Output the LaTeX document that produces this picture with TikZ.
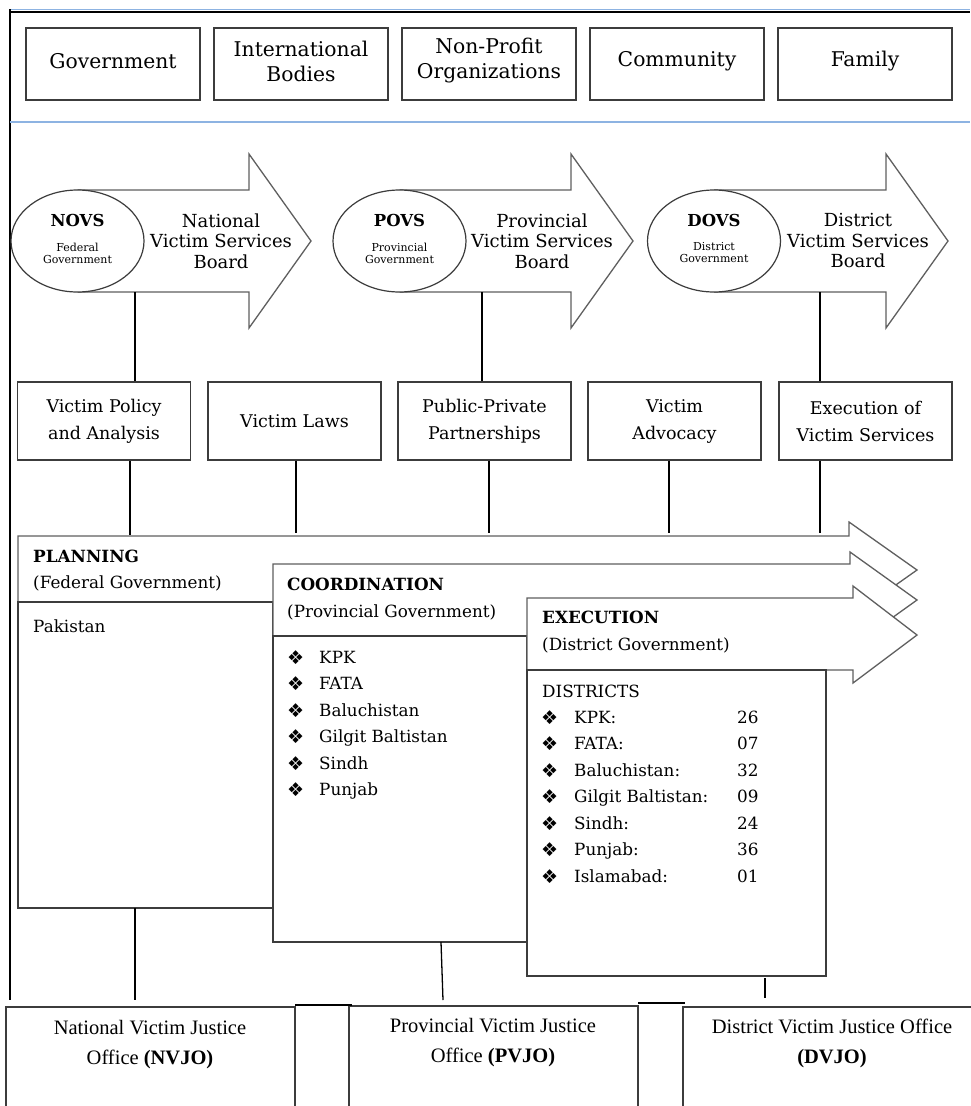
\documentclass[tikz,border=0pt]{standalone}
\usepackage{fontspec}
\setmainfont{DejaVu Serif}
\newfontfamily\timesf{Liberation Serif}
\newfontfamily\symf{DejaVu Sans}
\usetikzlibrary{shapes.geometric}
\definecolor{rule}{RGB}{141,179,226}
\definecolor{edge}{RGB}{60,60,60}
\definecolor{arrg}{RGB}{95,95,95}
\tikzset{
  topbox/.style={draw=edge, line width=1.4pt, minimum width=174pt, minimum height=72pt, inner sep=0pt},
  toptext/.style={inner sep=0pt, align=center, font=\fontsize{20.3}{25}\selectfont},
  midbox/.style={draw=edge, line width=1.4pt, minimum width=173pt, minimum height=78pt, inner sep=0pt, align=center, font=\fontsize{17.5}{27}\selectfont},
  arrline/.style={draw=arrg, line width=1.3pt, line join=miter, fill=white},
  oval/.style={ellipse, draw=edge, line width=1.2pt, fill=white, minimum width=133pt, minimum height=102pt, inner sep=0pt},
  ovalhead/.style={inner sep=0pt, font=\bfseries\fontsize{16.5}{16}\selectfont},
  ovalsub/.style={inner sep=0pt, align=center, font=\fontsize{11}{12}\selectfont},
  boardtext/.style={inner sep=0pt, align=center, font=\fontsize{18}{20.5}\selectfont},
  conn/.style={draw=black, line width=1.3pt},
  bodyline/.style={draw=edge, line width=1.4pt, fill=white},
  txt/.style={anchor=base west, inner sep=0pt, font=\fontsize{16.8}{20}\selectfont},
  btxt/.style={anchor=base west, inner sep=0pt, font=\bfseries\fontsize{16.8}{20}\selectfont},
  bul/.style={anchor=base west, inner sep=0pt, font=\symf\fontsize{19}{19}\selectfont},
  botbox/.style={draw=edge, line width=1.1pt, minimum width=289pt, minimum height=110pt, inner sep=0pt},
  bottext/.style={inner sep=0pt, align=center, font=\timesf\fontsize{20.5}{30}\selectfont},
}
\begin{document}
\begin{tikzpicture}[x=1pt,y=-1pt]
\useasboundingbox (0,0) rectangle (970,1106);
% frame
\draw[rule, line width=1.4pt] (10,9.5) -- (970,9.5);
\draw[black, line width=1.6pt] (10,12) -- (970,12);
\draw[black, line width=1.8pt] (10,9) -- (10,1000);
\draw[rule, line width=1.4pt] (10,122) -- (970,122);
% top boxes
\node[topbox] (gov) at (113,64) {};
\node[toptext] (govt) at (113,61) {Government};
\node[topbox] (intl) at (301,64) {};
\node[toptext] (intlt) at (301,61) {International\\Bodies};
\node[topbox] (npo) at (489,64) {};
\node[toptext] (npot) at (489,61) {Non-Profit\\Organizations};
\node[topbox] (com) at (677,64) {};
\node[toptext] (comt) at (677,61) {Community};
\node[topbox] (fam) at (865,64) {};
\node[toptext] (famt) at (865,61) {Family};
% big arrows
\draw[arrline] (77.5,190) -- (249,190) -- (249,154) -- (311,241) -- (249,328) -- (249,292) -- (77.5,292);
\node[oval] (novs) at (77.5,241) {};
\node[ovalhead] (novsh) at (77.5,220) {NOVS};
\node[ovalsub] (novss) at (77.5,253) {Federal\\Government};
\node[boardtext] (nvsb) at (221,241) {National\\Victim Services\\Board};
\draw[arrline] (399.5,190) -- (571,190) -- (571,154) -- (633,241) -- (571,328) -- (571,292) -- (399.5,292);
\node[oval] (povs) at (399.5,241) {};
\node[ovalhead] (povsh) at (399.5,220) {POVS};
\node[ovalsub] (povss) at (399.5,253) {Provincial\\Government};
\node[boardtext] (pvsb) at (542,241) {Provincial\\Victim Services\\Board};
\draw[arrline] (714,190) -- (886,190) -- (886,154) -- (948,241) -- (886,328) -- (886,292) -- (714,292);
\node[oval] (dovs) at (714,241) {};
\node[ovalhead] (dovsh) at (714,220) {DOVS};
\node[ovalsub] (dovss) at (714,253) {District\\Government};
\node[boardtext] (dvsb) at (858,241) {District\\Victim Services\\Board};
% middle boxes
\node[midbox] (vpa) at (104,421) {Victim Policy\\and Analysis};
\node[midbox] (vl) at (294.5,421) {Victim Laws};
\node[midbox] (ppp) at (484.5,421) {Public-Private\\Partnerships};
\node[midbox] (va) at (674.5,421) {Victim\\Advocacy};
\node[midbox] (evs) at (865.5,421) {Execution of\\Victim Services};
% connectors arrows -> boxes
\coordinate (a1) at (135,292);
\coordinate (a2) at (482,292);
\coordinate (a3) at (820,292);
\draw[conn] (a1) -- (a1 |- vpa.north);
\draw[conn] (a2) -- (a2 |- ppp.north);
\draw[conn] (a3) -- (a3 |- evs.north);
% planning / coordination / execution arrows
\draw[arrline] (18,536) -- (849,536) -- (849,522) -- (917,570) -- (849,618) -- (849,602) -- (18,602) -- cycle;
\draw[bodyline] (18,602) rectangle (273,908);
\draw[arrline] (273,564) -- (850,564) -- (850,552) -- (917,600) -- (850,648) -- (850,636) -- (273,636) -- cycle;
\draw[bodyline] (273,636) rectangle (527,942);
\draw[arrline] (527,598) -- (853,598) -- (853,586) -- (917,635) -- (853,683) -- (853,670) -- (527,670) -- cycle;
\draw[bodyline] (527,670) rectangle (826,976);
% connectors boxes -> planning arrow
\coordinate (p1) at (130,535);
\coordinate (p2) at (296,533);
\coordinate (p3) at (489,533);
\coordinate (p4) at (669,533);
\coordinate (p5) at (820,533);
\draw[conn] (p1 |- vpa.south) -- (p1);
\draw[conn] (p2 |- vl.south) -- (p2);
\draw[conn] (p3 |- ppp.south) -- (p3);
\draw[conn] (p4 |- va.south) -- (p4);
\draw[conn] (p5 |- evs.south) -- (p5);
% planning text
\node[btxt] (plan) at (33,562) {PLANNING};
\node[txt] (fedg) at (33,588) {(Federal Government)};
\node[txt] (pak) at (33,632) {Pakistan};
% coordination text
\node[btxt] (coord) at (287,590) {COORDINATION};
\node[txt] (provg) at (287,617) {(Provincial Government)};
\foreach[count=\i from 0] \t in {KPK,FATA,Baluchistan,Gilgit Baltistan,Sindh,Punjab}{
  \node[bul] (cb\i) at (287,664+26.5*\i) {❖};
  \node[txt] (ct\i) at (319,663+26.5*\i) {\t};
}
% execution text
\node[btxt] (exec) at (542,623) {EXECUTION};
\node[txt] (distg) at (542,650) {(District Government)};
\node[txt] (dists) at (542,697) {DISTRICTS};
\foreach[count=\i from 0] \t/\n in {KPK:/26,FATA:/07,Baluchistan:/32,Gilgit Baltistan:/09,Sindh:/24,Punjab:/36,Islamabad:/01}{
  \node[bul] (eb\i) at (541,724+26.5*\i) {❖};
  \node[txt] (et\i) at (574,723+26.5*\i) {\t};
  \node[txt] (en\i) at (737,723+26.5*\i) {\n};
}
% bottom offices
\node[botbox] (nvjo) at (150.5,1062) {};
\node[botbox] (pvjo) at (493.5,1061) {};
\node[botbox] (dvjo) at (827.5,1062) {};
\node[bottext] (nvjot) at (150,1045) {National Victim Justice\\Office \textbf{(NVJO)}};
\node[bottext] (pvjot) at (493,1043) {Provincial Victim Justice\\Office \textbf{(PVJO)}};
\node[bottext] (dvjot) at (832,1043) {District Victim Justice Office\\\textbf{(DVJO)}};
\draw[black, line width=2.2pt] (295,1005) -- (352,1005);
\draw[black, line width=2.2pt] (638,1003) -- (685,1003);
% connectors bodies -> offices
\coordinate (o1) at (135,1000);
\coordinate (o2) at (443,1000);
\coordinate (o3) at (765,998);
\draw[conn] (135,908) -- (o1);
\draw[conn] (441,942) -- (o2);
\draw[conn] (765,978) -- (o3);
\end{tikzpicture}
\end{document}
